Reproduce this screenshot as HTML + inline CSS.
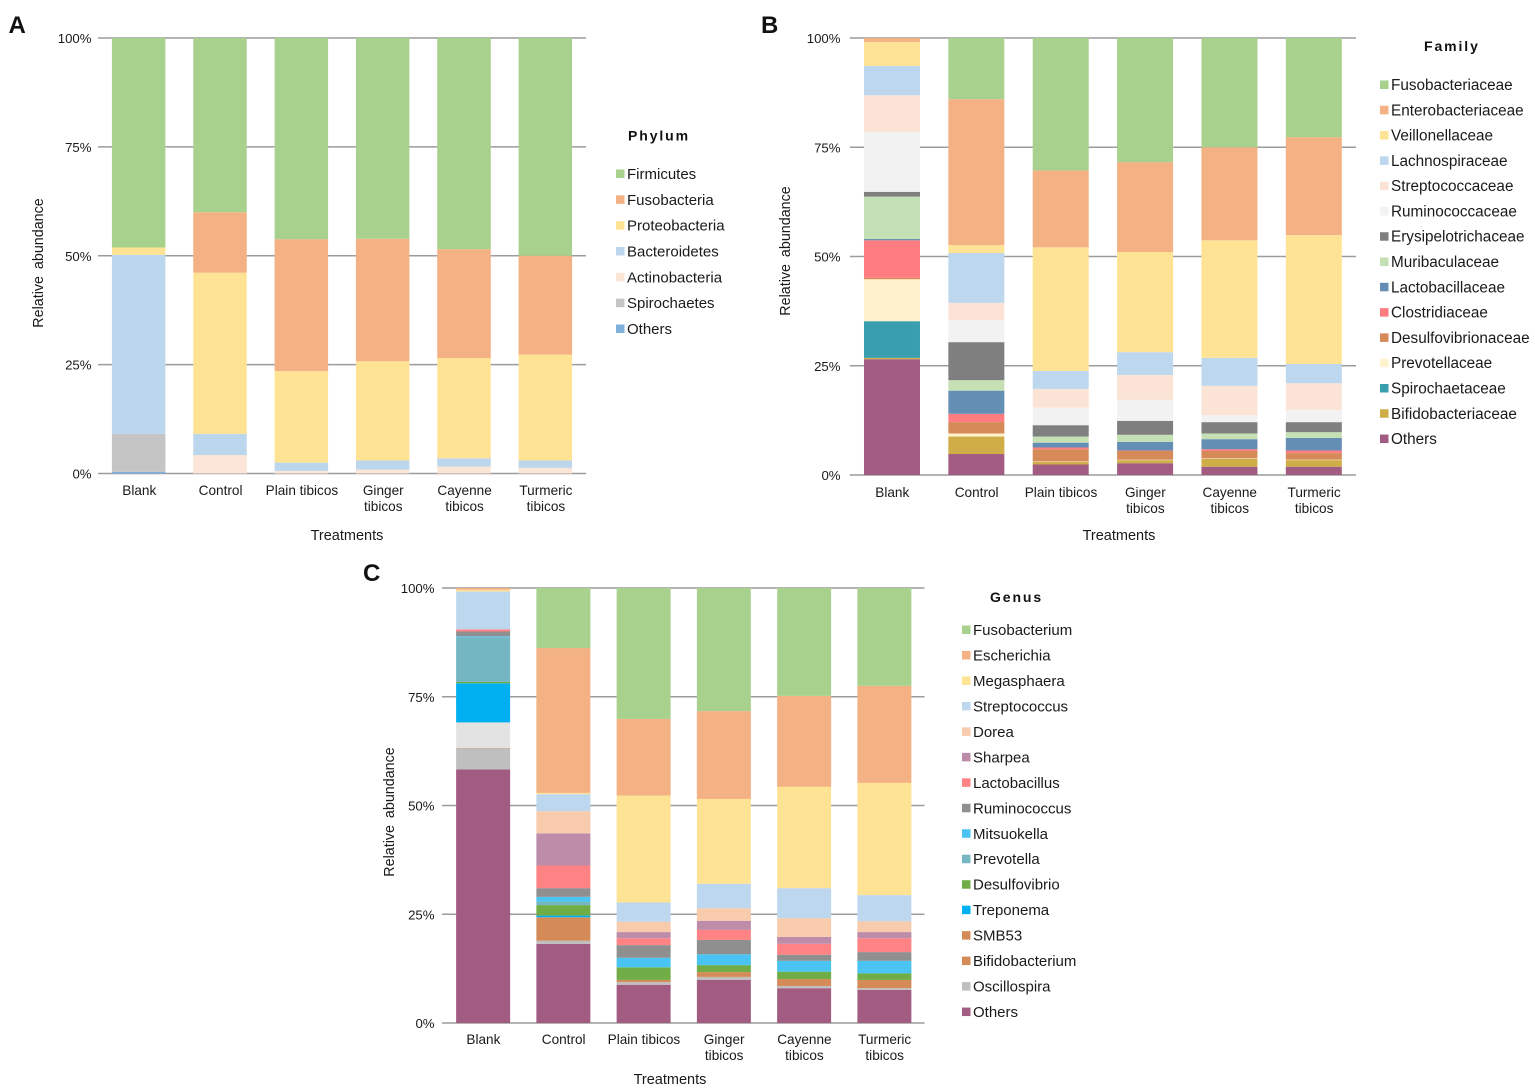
<!DOCTYPE html>
<html lang="en">
<head>
<meta charset="utf-8">
<title>Relative abundance by treatment</title>
<style>
html,body{margin:0;padding:0;background:#fff;width:1535px;height:1089px;overflow:hidden}
svg{display:block;font-family:"Liberation Sans",Arial,sans-serif;fill:#1a1a1a}
</style>
</head>
<body>
<svg id="figure" xmlns="http://www.w3.org/2000/svg" width="1535" height="1089" viewBox="0 0 1535 1089"></svg>
<script>
// Shared labels
const categories = ['Blank', 'Control', 'Plain tibicos', 'Ginger\ntibicos', 'Cayenne\ntibicos', 'Turmeric\ntibicos'];
const tickValues = [0, 25, 50, 75, 100];
const tickLabels = ['0%', '25%', '50%', '75%', '100%'];

// Phylum: series listed bottom of stack to top
const phylumNames = ['Others', 'Spirochaetes', 'Actinobacteria', 'Bacteroidetes', 'Proteobacteria', 'Fusobacteria', 'Firmicutes'];
const phylumColors = ['#7fb0dc', '#c5c5c5', '#fbe5d6', '#bcd6ee', '#ffe394', '#f4b183', '#a9d18e'];
const phylumBlank = [0.4, 8.7, 0, 41.1, 1.7, 0, 48.1];
const phylumControl = [0, 0, 4.25, 4.85, 37, 13.9, 40];
const phylumPlain = [0, 0, 0.6, 1.9, 21, 30.3, 46.2];
const phylumGinger = [0, 0, 0.9, 2.1, 22.8, 28.1, 46.1];
const phylumCayenne = [0, 0, 1.6, 1.9, 23, 25, 48.5];
const phylumTurmeric = [0, 0, 1.3, 1.7, 24.3, 22.7, 50];

// Family: series listed bottom of stack to top
const familyNames = ['Others', 'Bifidobacteriaceae', 'Spirochaetaceae', 'Prevotellaceae', 'Desulfovibrionaceae', 'Clostridiaceae', 'Lactobacillaceae', 'Muribaculaceae', 'Erysipelotrichaceae', 'Ruminococcaceae', 'Streptococcaceae', 'Lachnospiraceae', 'Veillonellaceae', 'Enterobacteriaceae', 'Fusobacteriaceae'];
const familyColors = ['#a25c82', '#cfae48', '#399ead', '#fff2cc', '#d58a58', '#ff7c80', '#658eb4', '#c5e0b4', '#7f7f7f', '#f2f2f2', '#fbe4d6', '#bdd7ee', '#ffe394', '#f4b183', '#a9d18e'];
const familyBlank = [26.5, 0.3, 8.4, 9.6, 0.3, 8.6, 0.3, 9.7, 1.1, 13.7, 8.4, 6.7, 5.5, 0.9, 0];
const familyControl = [4.8, 4, 0, 0.7, 2.6, 1.9, 5.3, 2.4, 8.7, 5, 4, 11.4, 1.8, 33.4, 14];
const familyPlain = [2.4, 0.6, 0, 0.1, 2.8, 0.4, 1.1, 1.4, 2.6, 4, 4.3, 4.1, 28.3, 17.6, 30.3];
const familyGinger = [2.7, 0.7, 0, 0.1, 2, 0.1, 2, 1.6, 3.2, 4.8, 5.7, 5.2, 22.9, 20.6, 28.4];
const familyCayenne = [1.9, 1.8, 0, 0.1, 1.7, 0.4, 2.3, 1.3, 2.6, 1.6, 6.7, 6.4, 26.9, 21.3, 25];
const familyTurmeric = [1.9, 1.5, 0, 0.1, 1.5, 0.6, 2.9, 1.3, 2.3, 2.8, 6.1, 4.4, 29.5, 22.4, 22.7];

// Genus: series listed bottom of stack to top ('Unlisted' appears in the bars but not the legend)
const genusNames = ['Others', 'Oscillospira', 'Bifidobacterium', 'SMB53', 'Unlisted', 'Treponema', 'Desulfovibrio', 'Prevotella', 'Mitsuokella', 'Ruminococcus', 'Lactobacillus', 'Sharpea', 'Dorea', 'Streptococcus', 'Megasphaera', 'Escherichia', 'Fusobacterium'];
const genusColors = ['#a25c82', '#bfbfbf', '#d58b58', '#d58b58', '#e3e3e3', '#00b0f0', '#70ad47', '#74b7c2', '#49c4f3', '#8f8f8f', '#ff8285', '#bc8ca9', '#f8cbad', '#bdd7ee', '#ffe394', '#f4b183', '#a9d18e'];
const genusBlank = [58.3, 4.8, 0.1, 0, 5.9, 9, 0.3, 10.3, 0.2, 1.1, 0.5, 0, 0, 8.7, 0.4, 0.4, 0];
const genusControl = [18.2, 0.7, 0, 5.4, 0, 0.4, 2.4, 0.8, 1.1, 2, 5.2, 7.4, 5.1, 3.9, 0.3, 33.3, 13.8];
const genusPlain = [8.8, 0.6, 0.5, 0, 0, 0, 2.9, 0, 2.2, 2.9, 1.6, 1.4, 2.4, 4.4, 24.6, 17.6, 30.1];
const genusGinger = [9.9, 0.7, 1.1, 0, 0, 0, 1.6, 0, 2.5, 3.3, 2.3, 2.1, 2.9, 5.6, 19.5, 20.2, 28.3];
const genusCayenne = [8, 0.5, 1.6, 0, 0, 0, 1.7, 0, 2.5, 1.4, 2.5, 1.6, 4.3, 6.9, 23.3, 20.9, 24.8];
const genusTurmeric = [7.6, 0.4, 1.9, 0, 0, 0, 1.5, 0, 2.9, 2, 3.2, 1.4, 2.5, 6, 25.8, 22.3, 22.5];

const NS = 'http://www.w3.org/2000/svg';
const figure = document.getElementById('figure');

function node(parent, tag, props, content) {
  const el = document.createElementNS(NS, tag);
  for (const key in props) el.setAttribute(key, props[key]);
  if (content !== undefined) el.textContent = content;
  parent.appendChild(el);
  return el;
}

function drawPanel(cfg) {
  const yScale = v => cfg.y0 - (v / 100) * (cfg.y0 - cfg.y100);
  const bandWidth = (cfg.right - cfg.left) / categories.length;
  const xCenter = i => cfg.left + bandWidth * (i + 0.5);

  const panel = node(figure, 'g', {});
  
  

  const letter = node(panel, 'text', { x: cfg.letterX, y: cfg.letterY, 'font-size': 24, 'font-weight': 'bold', fill: '#111' }, cfg.letter);
  
  

  tickValues.forEach((value, t) => {
    const grid = node(panel, 'line', { x1: cfg.axisLeft, x2: cfg.right, y1: yScale(value), y2: yScale(value), stroke: '#9c9c9c', 'stroke-width': 1.4 });
    
    
    const tick = node(panel, 'text', { x: cfg.tickX, y: yScale(value) + 5, 'font-size': 13.2, 'text-anchor': 'end' }, tickLabels[t]);
    
    
  });

  cfg.rows.forEach((row, c) => {
    let cum = 0;
    row.forEach((value, s) => {
      if (value > 0) {
        const top = yScale(cum + value);
        const bottom = yScale(cum);
        const seg = node(panel, 'rect', { x: xCenter(c) - cfg.barWidth / 2, y: top, width: cfg.barWidth, height: bottom - top, fill: cfg.colors[s] });
        
        
      }
      cum += value;
    });
    categories[c].split('\n').forEach((line, l) => {
      const lab = node(panel, 'text', { x: xCenter(c) + cfg.catShift, y: cfg.catY + l * 16, 'font-size': 13.6, 'text-anchor': 'middle' }, line);
      
      
    });
  });

  const xTitle = node(panel, 'text', { x: cfg.xTitleX, y: cfg.xTitleY, 'font-size': 14.5, 'text-anchor': 'middle' }, 'Treatments');
  
  

  const yTitle = node(panel, 'text', { transform: 'translate(' + cfg.yTitleX + ',' + cfg.yTitleY + ') rotate(-90)', 'font-size': 14.3, 'text-anchor': 'middle', 'word-spacing': 3 }, 'Relative abundance');
  
  

  const legendTitle = node(panel, 'text', { x: cfg.legendTitleX, y: cfg.legendTitleY, 'font-size': 14, 'font-weight': 'bold', 'letter-spacing': 1.9, fill: '#111' }, cfg.title);
  
  

  let slot = 0;
  for (let s = cfg.names.length - 1; s >= 0; s--) {
    if (cfg.names[s] === 'Unlisted') continue;
    const cy = cfg.legendY + slot * cfg.legendStep;
    const swatch = node(panel, 'rect', { x: cfg.swatchX, y: cy - 4.5, width: 8.5, height: 8.5, fill: cfg.colors[s] });
    
    
    const label = node(panel, 'text', { x: cfg.swatchX + 11, y: cy + 5, 'font-size': cfg.legendFont }, cfg.names[s]);
    
    
    slot++;
  }
}

drawPanel({
  key: 'phylum', title: 'Phylum', letter: 'A', letterX: 8.5, letterY: 33,
  names: phylumNames, colors: phylumColors,
  rows: [phylumBlank, phylumControl, phylumPlain, phylumGinger, phylumCayenne, phylumTurmeric],
  left: 98, axisLeft: 98, right: 586, y100: 38, y0: 473.5, barWidth: 53.5, tickX: 91.5, catY: 495, catShift: 0.6,
  xTitleX: 347, xTitleY: 540, yTitleX: 43, yTitleY: 263,
  legendTitleX: 628, legendTitleY: 140.5, swatchX: 616, legendY: 174, legendStep: 25.83, legendFont: 15
});

drawPanel({
  key: 'family', title: 'Family', letter: 'B', letterX: 761, letterY: 33,
  names: familyNames, colors: familyColors,
  rows: [familyBlank, familyControl, familyPlain, familyGinger, familyCayenne, familyTurmeric],
  left: 849.8, axisLeft: 849.8, right: 1356, y100: 38, y0: 475, barWidth: 56, tickX: 840.5, catY: 497, catShift: 0.3,
  xTitleX: 1119, xTitleY: 540, yTitleX: 790, yTitleY: 251,
  legendTitleX: 1424, legendTitleY: 51, swatchX: 1380, legendY: 85, legendStep: 25.29, legendFont: 15.3
});

drawPanel({
  key: 'genus', title: 'Genus', letter: 'C', letterX: 363, letterY: 581,
  names: genusNames, colors: genusColors,
  rows: [genusBlank, genusControl, genusPlain, genusGinger, genusCayenne, genusTurmeric],
  left: 443, axisLeft: 442, right: 924.5, y100: 588, y0: 1023, barWidth: 54, tickX: 434.5, catY: 1044, catShift: 0.3,
  xTitleX: 670, xTitleY: 1084, yTitleX: 394, yTitleY: 812,
  legendTitleX: 990, legendTitleY: 602, swatchX: 962, legendY: 630, legendStep: 25.47, legendFont: 15
});
</script>
</body>
</html>
